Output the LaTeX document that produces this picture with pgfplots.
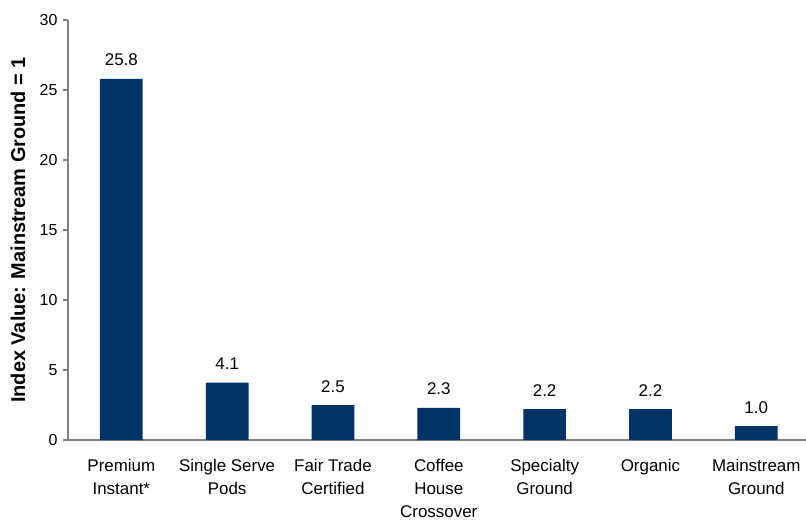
\documentclass[border=0pt]{standalone}
\usepackage{fontspec}
\setmainfont{Liberation Sans}
\usepackage{pgfplots}
\pgfplotsset{compat=1.18}
\definecolor{barblue}{RGB}{0,51,102}
\definecolor{axgrey}{RGB}{128,128,128}
\begin{document}
\begin{tikzpicture}
\begin{axis}[
  scale only axis,
  width=738bp, height=420bp,
  xmin=-0.504, xmax=6.47,
  ymin=0, ymax=30,
  axis x line*=bottom, axis y line*=left,
  axis line style={axgrey, line width=1.2bp},
  ytick={0,5,10,15,20,25,30},
  xtick=data,
  xticklabels={{Premium\\Instant*},{Single Serve\\Pods},{Fair Trade\\Certified},{Coffee\\House\\Crossover},{Specialty\\Ground},{Organic},{Mainstream\\Ground}},
  x tick style={draw=none},
  y tick style={axgrey, line width=1.2bp},
  tick align=outside,
  major tick length=5bp,
  /pgf/number format/assume math mode=true,
  xticklabel style={align=center, font=\fontsize{17}{23}\selectfont, anchor=north, yshift=-11bp},
  yticklabel style={font=\fontsize{16}{19}\selectfont, xshift=-2bp},
  ylabel={Index Value: Mainstream Ground = 1},
  ylabel style={font=\fontsize{20}{24}\selectfont\bfseries, at={(axis description cs:0,0.5)}, anchor=center, yshift=50bp},
  ybar, bar width=42.7bp,
  nodes near coords={\pgfmathprintnumber[fixed,fixed zerofill,precision=1,assume math mode=true]{\pgfplotspointmeta}},
  every node near coord/.append style={font=\fontsize{17}{20}\selectfont, anchor=base, yshift=13bp, black},
]
\addplot[fill=barblue, draw=none] coordinates {
  (0,25.8) (1,4.1) (2,2.5) (3,2.3) (4,2.2) (5,2.2) (6,1.0)
};
\end{axis}
\pgfresetboundingbox
\useasboundingbox (-68bp,-83bp) rectangle (738bp,440bp);
\end{tikzpicture}
\end{document}
